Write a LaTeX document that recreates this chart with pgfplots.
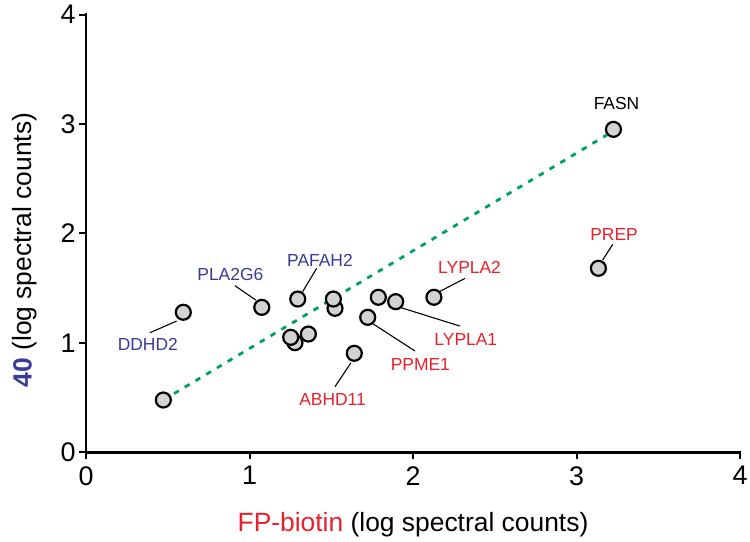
\documentclass[border=0pt]{standalone}
\usepackage{fontspec}
\setmainfont{Liberation Sans}
\usepackage{pgfplots}
\pgfplotsset{compat=1.18}
\definecolor{lblblue}{HTML}{3A3A98}
\definecolor{lblred}{HTML}{E8202A}
\definecolor{trend}{HTML}{00A060}
\definecolor{ptfill}{HTML}{D3D3D3}
\begin{document}
\begin{tikzpicture}
\begin{axis}[
  at={(0,0)}, anchor=south west,
  scale only axis, width=654bp, height=437.6bp,
  xmin=0, xmax=4, ymin=0, ymax=4,
  axis lines*=left,
  axis line style={line width=2.4bp, black, line cap=rect},
  xtick={0,1,2,3,4}, ytick={0,1,2,3,4},
  tick align=outside,
  major tick length=7bp,
  tick style={line width=2bp, black},
  tick label style={font=\fontsize{27}{30}\selectfont},
  xticklabel style={yshift=-3.5bp},
  /pgf/number format/assume math mode=true,
  clip=false,
  xlabel={\textcolor{lblred}{FP-biotin} (log spectral counts)},
  ylabel={\textcolor{lblblue}{\bfseries 40} (log spectral counts)},
  label style={font=\fontsize{26.5}{30}\selectfont},
  xlabel style={at={(axis description cs:0.5,-0.182)}, anchor=base},
  ylabel style={at={(axis description cs:-0.083,0.462)}, anchor=base},
]
% trend line
\addplot[trend, line width=2.8bp, dash pattern=on 5.5bp off 7bp, no marks]
  coordinates {(0.473,0.478) (3.185,2.90)};
% leader lines
\addplot[black, line width=1.1bp, no marks] coordinates {(3.222,1.901) (3.160,1.758)};
\addplot[black, line width=1.1bp, no marks] coordinates {(2.318,1.590) (2.161,1.468)};
\addplot[black, line width=1.1bp, no marks] coordinates {(1.920,1.325) (2.287,1.154)};
\addplot[black, line width=1.1bp, no marks] coordinates {(1.757,1.173) (2.012,0.926)};
\addplot[black, line width=1.1bp, no marks] coordinates {(1.621,0.819) (1.523,0.600)};
\addplot[black, line width=1.1bp, no marks] coordinates {(0.391,1.093) (0.555,1.200)};
\addplot[black, line width=1.1bp, no marks] coordinates {(0.911,1.523) (1.038,1.392)};
\addplot[black, line width=1.1bp, no marks] coordinates {(1.411,1.682) (1.325,1.468)};
% points
\addplot[only marks, mark=*, mark size=7.5bp,
  mark options={fill=ptfill, draw=black, line width=2.2bp}]
  coordinates {
  (0.473,0.478) (0.595,1.280) (1.075,1.325) (1.295,1.401)
  (1.523,1.316) (1.513,1.401) (1.278,1.002) (1.252,1.051)
  (1.360,1.081) (1.641,0.905) (1.723,1.234) (1.788,1.417)
  (1.894,1.377) (2.128,1.417) (3.134,1.682) (3.226,2.952)
  };
% labels
\begin{scope}[every node/.style={inner sep=0pt, anchor=center, font=\fontsize{17.5}{20}\selectfont}]
\node[black]   at (axis cs:3.245,3.190) {FASN};
\node[lblred]  at (axis cs:3.230,1.995) {PREP};
\node[lblred]  at (axis cs:2.346,1.689) {LYPLA2};
\node[lblred]  at (axis cs:2.323,1.029) {LYPLA1};
\node[lblred]  at (axis cs:2.045,0.803) {PPME1};
\node[lblred]  at (axis cs:1.508,0.486) {ABHD11};
\node[lblblue] at (axis cs:0.378,0.985) {DDHD2};
\node[lblblue] at (axis cs:0.883,1.621) {PLA2G6};
\node[lblblue] at (axis cs:1.431,1.758) {PAFAH2};
\end{scope}
\end{axis}
\pgfresetboundingbox
\path (-86bp,-89.7bp) rectangle (664bp,452.3bp);
\end{tikzpicture}
\end{document}
